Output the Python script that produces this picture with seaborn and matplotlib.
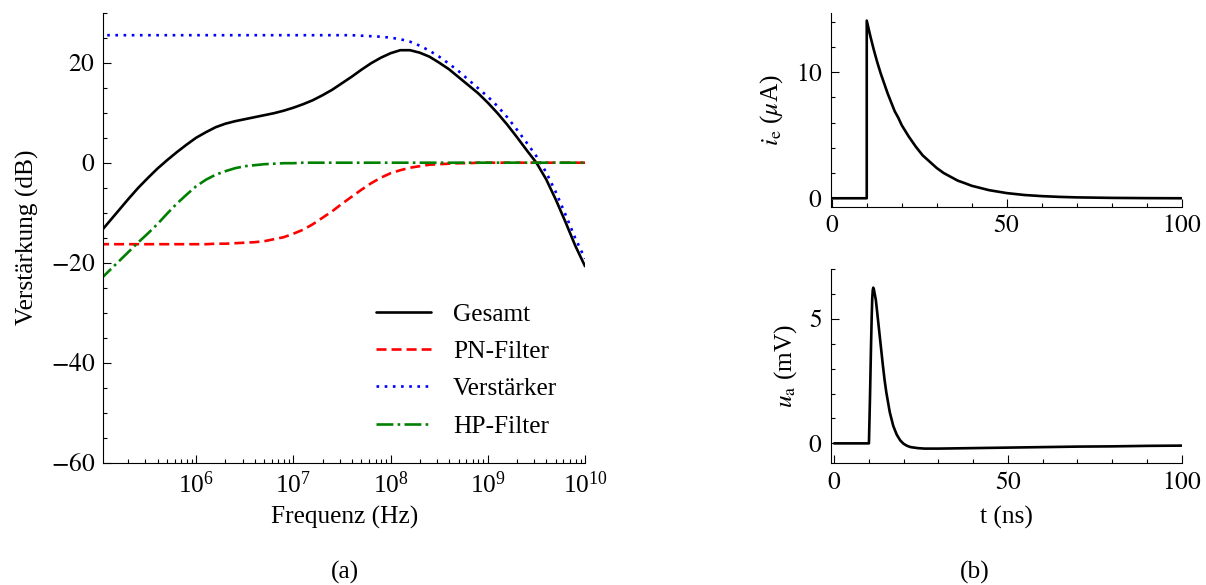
import numpy as np
import pandas as pd
import matplotlib
matplotlib.use("Agg")
import matplotlib.pyplot as plt
from matplotlib.ticker import (LogLocator, LogFormatterMathtext, MultipleLocator,
                               NullFormatter, FuncFormatter)
import seaborn as sns

# ---- (a) frequency response, gain in dB on a log10 frequency grid ----
log_freq = np.round(np.arange(5.0, 10.05, 0.1), 1)

gesamt = [-14.2, -11.9, -9.6, -7.3, -5.1, -3.1, -1.2, 0.5, 2.1, 3.6,
          5.0, 6.1, 7.1, 7.8, 8.3, 8.7, 9.1, 9.5, 9.9, 10.4,
          11.0, 11.7, 12.5, 13.5, 14.6, 15.9, 17.2, 18.6, 19.9, 21.0,
          21.9, 22.5, 22.5, 22.0, 21.2, 20.0, 18.7, 17.1, 15.5, 13.9,
          12.0, 9.9, 7.6, 5.1, 2.5, 0.0, -3.3, -7.4, -11.9, -16.6,
          -20.7]

pn_filter = [-16.3, -16.3, -16.3, -16.3, -16.3, -16.3, -16.3, -16.3, -16.3, -16.3,
             -16.3, -16.3, -16.2, -16.2, -16.1, -16.0, -15.9, -15.7, -15.3, -14.9,
             -14.2, -13.4, -12.3, -11.0, -9.7, -8.2, -6.8, -5.4, -4.1, -3.0,
             -2.1, -1.5, -1.0, -0.7, -0.4, -0.3, -0.2, -0.1, -0.1, 0.0,
             0.0, 0.0, 0.0, 0.0, 0.0, 0.0, 0.0, 0.0, 0.0, 0.0,
             0.0]

verstaerker = [25.5, 25.5, 25.5, 25.5, 25.5, 25.5, 25.5, 25.5, 25.5, 25.5,
               25.5, 25.5, 25.5, 25.5, 25.5, 25.5, 25.5, 25.5, 25.5, 25.5,
               25.5, 25.5, 25.5, 25.5, 25.5, 25.5, 25.5, 25.4, 25.3, 25.2,
               25.0, 24.7, 24.2, 23.4, 22.4, 21.2, 19.8, 18.3, 16.6, 14.9,
               13.2, 11.3, 9.1, 6.6, 4.0, 1.3, -1.9, -5.9, -10.4, -15.1,
               -19.2]

hp_filter = [-23.6, -21.7, -19.8, -17.9, -16.0, -14.2, -12.3, -10.2, -8.2, -6.4,
             -4.7, -3.4, -2.4, -1.7, -1.1, -0.7, -0.5, -0.3, -0.2, -0.1,
             -0.1, 0.0, 0.0, 0.0, 0.0, 0.0, 0.0, 0.0, 0.0, 0.0,
             0.0, 0.0, 0.0, 0.0, 0.0, 0.0, 0.0, 0.0, 0.0, 0.0,
             0.0, 0.0, 0.0, 0.0, 0.0, 0.0, 0.0, 0.0, 0.0, 0.0,
             0.0]

series_labels = ["Gesamt", "PN-Filter", "Verstärker", "HP-Filter"]

# ---- (b) time-domain signals ----
t_ie = [0, 10, 10, 11, 12, 13, 14, 15, 16, 17, 18, 19, 20, 22, 24, 26, 28,
        30, 32, 34, 36, 38, 40, 45, 50, 55, 60, 65, 70, 80, 90, 100]
ie = [0.0, 0.0, 14.1, 12.9, 11.8, 10.8, 9.9, 9.1, 8.3, 7.6, 6.9, 6.4, 5.8,
      4.9, 4.1, 3.4, 2.9, 2.4, 2.0, 1.7, 1.4, 1.2, 0.99, 0.64, 0.41, 0.26,
      0.17, 0.11, 0.07, 0.03, 0.01, 0.0]

t_ua = [0, 10.0, 10.3, 10.6, 10.8, 10.95, 11.1, 11.25, 11.4, 11.6, 12.0, 12.5,
        13.0, 13.5, 14.0, 14.5, 15.0, 16.0, 17.0, 18.0, 19.0, 20.0, 21.0, 22.0,
        24.0, 26.0, 30.0, 40, 50, 60, 70, 80, 90, 100]
ua = [0.0, 0.0, 1.8, 3.9, 5.1, 5.8, 6.15, 6.25, 6.2, 6.05, 5.75, 5.1,
      4.45, 3.8, 3.15, 2.55, 2.05, 1.25, 0.7, 0.35, 0.12, -0.02, -0.1, -0.15,
      -0.19, -0.21, -0.21, -0.19, -0.17, -0.15, -0.13, -0.12, -0.1, -0.09]

FS = 18.3
sns.set_style("ticks")
plt.rcParams.update({
    "font.family": ["Liberation Serif", "DejaVu Serif"],
    "mathtext.fontset": "stix",
    "axes.formatter.use_mathtext": True,
    "font.size": FS,
    "axes.labelsize": FS,
    "xtick.labelsize": FS,
    "ytick.labelsize": FS,
    "legend.fontsize": FS,
    "axes.linewidth": 0.8,
    "axes.edgecolor": "black",
    "axes.labelcolor": "black",
    "text.color": "black",
    "xtick.color": "black",
    "ytick.color": "black",
    "xtick.direction": "in",
    "ytick.direction": "in",
})

W, H = 1206, 585
fig = plt.figure(figsize=(W / 100, H / 100), dpi=100)


def px_axes(left, top, right, bottom):
    return fig.add_axes([left / W, 1 - bottom / H, (right - left) / W, (bottom - top) / H])


# tick numbers typeset as math so negative values get a proper minus sign
math_numbers = FuncFormatter(lambda v, pos: f"${v:g}$")

ax_a = px_axes(103.3, 12.7, 585.0, 462.7)
ax_i = px_axes(830.7, 12.7, 1181.7, 206.7)
ax_u = px_axes(830.7, 269.0, 1181.7, 463.3)

# ---- panel (a) ----
ax_a.set_xscale("log")
freq_df = pd.DataFrame({
    "f": 10.0 ** log_freq,
    "gesamt": gesamt,
    "pn": pn_filter,
    "amp": verstaerker,
    "hp": hp_filter,
})
lw = 1.9
sns.lineplot(data=freq_df, x="f", y="gesamt", ax=ax_a, color="black", lw=lw,
             label=series_labels[0])
sns.lineplot(data=freq_df, x="f", y="pn", ax=ax_a, color="#ff0000", lw=lw,
             linestyle=(0, (3.8, 1.9)), label=series_labels[1])
sns.lineplot(data=freq_df, x="f", y="amp", ax=ax_a, color="#0000ff", lw=lw,
             linestyle=(0, (1.0, 2.1)), label=series_labels[2])
sns.lineplot(data=freq_df, x="f", y="hp", ax=ax_a, color="#008000", lw=lw,
             linestyle=(0, (6.4, 1.6, 1.0, 1.6)), label=series_labels[3])

ax_a.set_xlim(10 ** 5.044, 1e10)
ax_a.set_ylim(-60, 30)
ax_a.xaxis.set_major_locator(LogLocator(base=10, numticks=20))
ax_a.xaxis.set_major_formatter(LogFormatterMathtext())
ax_a.xaxis.set_minor_locator(LogLocator(base=10, subs=np.arange(2, 10), numticks=50))
ax_a.xaxis.set_minor_formatter(NullFormatter())
ax_a.yaxis.set_major_locator(MultipleLocator(20))
ax_a.yaxis.set_minor_locator(MultipleLocator(5))
ax_a.yaxis.set_major_formatter(math_numbers)
ax_a.set_xlabel("Frequenz (Hz)")
ax_a.set_ylabel("Verstärkung (dB)")
ax_a.xaxis.set_label_coords(0.5, -0.095)
ax_a.yaxis.set_label_coords(-0.134, 0.5)

leg = ax_a.legend(loc="upper left", bbox_to_anchor=(376 / W, 1 - 303 / H),
                  bbox_transform=fig.transFigure, frameon=False, borderpad=0,
                  borderaxespad=0, handlelength=2.17, handletextpad=0.85,
                  labelspacing=0.57)

# ---- panel (b) ----
sns.lineplot(x=t_ie, y=ie, ax=ax_i, color="black", lw=lw, estimator=None, sort=False)
sns.lineplot(x=t_ua, y=ua, ax=ax_u, color="black", lw=lw, estimator=None, sort=False)

ax_i.set_xlim(-0.3, 100)
ax_i.set_ylim(-0.67, 14.73)
ax_i.yaxis.set_major_locator(MultipleLocator(10))
ax_i.yaxis.set_minor_locator(MultipleLocator(2))
ax_i.set_ylabel(r"$i_\mathrm{e}$ ($\mu$A)")
ax_i.yaxis.set_label_coords(-0.131, 0.5)

ax_u.set_xlim(-1.0, 100)
ax_u.set_ylim(-0.8, 7.0)
ax_u.yaxis.set_major_locator(MultipleLocator(5))
ax_u.yaxis.set_minor_locator(MultipleLocator(1))
ax_u.set_xlabel("t (ns)")
ax_u.set_ylabel(r"$u_\mathrm{a}$ (mV)")
ax_u.xaxis.set_label_coords(0.5, -0.22)
ax_u.yaxis.set_label_coords(-0.091, 0.5)

for ax in (ax_i, ax_u):
    ax.xaxis.set_major_locator(MultipleLocator(50))
    ax.xaxis.set_minor_locator(MultipleLocator(10))
    ax.xaxis.set_major_formatter(math_numbers)
    ax.yaxis.set_major_formatter(math_numbers)

for ax in (ax_a, ax_i, ax_u):
    sns.despine(ax=ax)
    ax.tick_params(axis="both", which="both", direction="in", top=False, right=False,
                   width=0.8)
    ax.tick_params(axis="both", which="major", length=5.7, pad=6)
    ax.tick_params(axis="both", which="minor", length=2.8)

fig.text(345 / W, 1 - 572 / H, "(a)", ha="center", va="center", fontsize=FS)
fig.text(975 / W, 1 - 572 / H, "(b)", ha="center", va="center", fontsize=FS)

fig.savefig("out.png", dpi=100)
